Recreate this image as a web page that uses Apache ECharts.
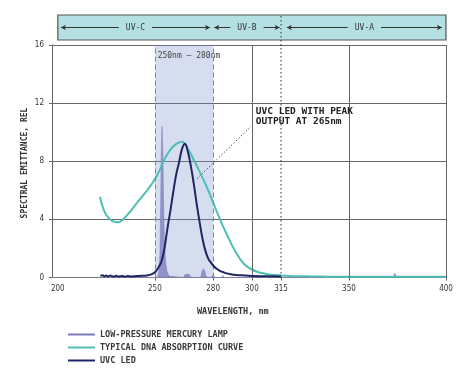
<!DOCTYPE html>
<html><head><meta charset="utf-8">
<script src="https://cdn.jsdelivr.net/npm/echarts@6/dist/echarts.min.js"></script>
<style>html,body{margin:0;padding:0;background:#fff}#c{width:470px;height:377px}</style>
</head><body><div id="c"></div>
<script>
// ---------- data ----------
const xTickValues = [200, 250, 280, 300, 315, 350, 400];
const xTickMarks = [250, 280, 300, 315, 350, 400];
const yTicks = [0, 4, 8, 12, 16];
const seriesNames = ['LOW-PRESSURE MERCURY LAMP', 'TYPICAL DNA ABSORPTION CURVE', 'UVC LED'];
const mercuryLamp = [
  [222,0],[251.4,0],[252.1,0.4],[252.6,1.6],[253.0,5],[253.35,9],[253.7,10.4],[254.05,9],[254.45,5.5],
  [254.9,2.6],[255.5,1.1],[256.2,0.45],[257.2,0.1],[258,0],[264.8,0],[265.6,0.22],[266.6,0.3],[267.6,0.22],
  [268.5,0.03],[270,0],[273.6,0],[274.3,0.42],[275,0.6],[275.7,0.45],[276.5,0.04],[279,0],[279.7,0.15],
  [280.4,0.18],[281.2,0],[284.4,0],[285,0.14],[285.7,0],[289,0],[289.7,0.1],[290.4,0],[373,0],
  [373.5,0.3],[374.3,0.3],[374.8,0],[400,0]
];
const dnaAbsorption = [
  [221.7,5.56],[223,4.9],[225,4.3],[228,3.9],[231,3.8],[234,4.05],[237,4.5],[240,5.0],[243,5.5],
  [246,6.0],[249,6.55],[252,7.25],[255,8.15],[258,8.8],[261,9.2],[264,9.35],[267,8.85],[270,8.1],
  [273,7.3],[276,6.45],[279,5.5],[282,4.5],[285,3.55],[288,2.7],[291,1.9],[294,1.25],[297,0.8],
  [300,0.55],[303,0.38],[306,0.29],[309,0.21],[312,0.17],[315,0.14],[320,0.11],[330,0.08],[340,0.06],
  [350,0.05],[375,0.05],[400,0.05]
];
const uvcLed = [
  [222,0.1],[223,0.15],[224,0.08],[225,0.14],[226,0.07],[227,0.13],[228,0.09],[229,0.06],[230,0.12],
  [231.5,0.07],[233,0.11],[234.5,0.06],[236,0.1],[238,0.07],[240,0.09],[242,0.1],[244,0.12],[246,0.14],
  [247.5,0.18],[249,0.26],[250.5,0.42],[252,0.72],[253.5,1.15],[255,2.05],[256.5,3.4],[258,4.6],
  [259.5,5.9],[261,7.1],[262.5,7.95],[264,8.85],[265.5,9.2],[267,8.65],[268.5,7.7],[270,6.5],[271.5,5.1],
  [273,3.85],[274.5,2.7],[276,1.85],[277.5,1.3],[279,1.0],[280.5,0.76],[282,0.58],[283.5,0.46],[285,0.38],
  [286.5,0.3],[289,0.23],[292,0.18],[296,0.14],[300,0.11],[308,0.08],[315,0.07]
];
const bandRange = [250, 280];
const bandLabel = '250nm – 280nm';
const uvRegions = [
  {name: 'UV-C', from: 201.6, to: 278.4},
  {name: 'UV-B', from: 280.6, to: 314.3},
  {name: 'UV-A', from: 318, to: 397.9}
];
const bandBoxRange = [200, 400];
const solidLines = [300, 350, 400];
const dottedLine = 315;
const annotationText = ['UVC LED WITH PEAK', 'OUTPUT AT 265nm'];
const annotationAnchor = [302, 11.75];
const leaderFrom = [271.7, 6.8];
const leaderTo = [299.6, 10.4];
const xAxisName = 'WAVELENGTH, nm';
const yAxisName = 'SPECTRAL EMITTANCE, REL';

// ---------- style ----------
const MONO = '"DejaVu Sans Mono", monospace';
const NARROW = '"Liberation Sans Narrow", "DejaVu Sans Condensed", sans-serif';
const GRID = '#666';
const C_LAMP = '#7d7aba', C_DNA = '#4dbfb6', C_LED = '#1f2562';

const chart = echarts.init(document.getElementById('c'), null, {renderer: 'canvas'});

const vLines = [
  {xAxis: bandRange[0], lineStyle: {type: [5, 3], color: '#888'}},
  {xAxis: bandRange[1], lineStyle: {type: [5, 3], color: '#888'}}
].concat(solidLines.map(v => ({xAxis: v, lineStyle: {type: 'solid', color: GRID}})));

chart.setOption({
  animation: false,
  grid: [
    {left: 52, right: 24, top: 45, bottom: 99.5},
    {left: 52, right: 24, top: 15, height: 25}
  ],
  xAxis: [
    {type: 'value', gridIndex: 0, min: 197, max: 400, splitLine: {show: false},
     axisLine: {lineStyle: {color: '#777', width: 1.2}},
     axisTick: {show: true, customValues: xTickMarks, length: 3, lineStyle: {color: GRID}},
     axisLabel: {customValues: xTickValues, color: '#333', fontSize: 8, fontFamily: NARROW, margin: 7}},
    {type: 'value', gridIndex: 1, min: 197, max: 400, show: false}
  ],
  yAxis: [
    {type: 'value', gridIndex: 0, min: 0, max: 16, interval: 4,
     axisLine: {show: true, lineStyle: {color: GRID}},
     axisTick: {show: true, length: 3, lineStyle: {color: GRID}},
     splitLine: {lineStyle: {color: GRID, width: 1}},
     axisLabel: {color: '#333', fontSize: 8, fontFamily: NARROW, margin: 8}},
    {type: 'value', gridIndex: 1, min: 0, max: 1, show: false}
  ],
  legend: {
    orient: 'vertical', left: 63, top: 324, itemWidth: 27, itemHeight: 2, itemGap: 2, icon: 'rect',
    data: seriesNames,
    textStyle: {fontFamily: MONO, fontSize: 8.5, fontWeight: 'bold', color: '#3a3a3a', lineHeight: 11}
  },
  series: [
    {type: 'scatter', xAxisIndex: 0, yAxisIndex: 0, data: [[300, 0]], symbolSize: 0, silent: true, z: 1,
     markArea: {silent: true, itemStyle: {color: 'rgba(118,142,198,0.3)'},
       label: {show: true, position: 'insideTop', distance: 7, offset: [5, 0], formatter: bandLabel,
               fontFamily: MONO, fontSize: 8, color: '#444'},
       data: [[{xAxis: bandRange[0]}, {xAxis: bandRange[1]}]]},
     markLine: {silent: true, symbol: ['none', 'none'], label: {show: false}, lineStyle: {width: 1},
       data: vLines}},
    {type: 'scatter', xAxisIndex: 1, yAxisIndex: 1, data: [[300, 0.5]], symbolSize: 0, silent: true, z: 1,
     markArea: {silent: true, itemStyle: {color: '#b4e0e4', borderColor: '#555', borderWidth: 1.2},
       data: [[{coord: [bandBoxRange[0], 0]}, {coord: [bandBoxRange[1], 1]}]]},
     markLine: {silent: true, symbol: ['arrow', 'arrow'], symbolSize: [4, 5],
       lineStyle: {type: 'solid', color: '#333', width: 1},
       label: {show: true, position: 'middle', distance: 0, verticalAlign: 'middle',
               backgroundColor: '#b4e0e4', padding: [1, 7],
               fontFamily: MONO, fontSize: 8, color: '#333'},
       data: uvRegions.map(r => [{coord: [r.from, 0.5], name: r.name}, {coord: [r.to, 0.5]}]),
       emphasis: {disabled: true}}},
    {name: seriesNames[0], type: 'line', data: mercuryLamp, showSymbol: false, z: 3,
     itemStyle: {color: C_LAMP}, lineStyle: {width: 0.6, color: '#8a87c3'},
     areaStyle: {color: '#8a87c3', opacity: 0.9}},
    {name: seriesNames[1], type: 'line', data: dnaAbsorption, showSymbol: false, smooth: 0.4, z: 4,
     itemStyle: {color: C_DNA}, lineStyle: {width: 2, color: C_DNA}},
    {name: seriesNames[2], type: 'line', data: uvcLed, showSymbol: false, smooth: 0.4, z: 5,
     itemStyle: {color: C_LED}, lineStyle: {width: 2, color: C_LED}}
  ]
});

// derived positions through the chart's own scales
const px = (x, y) => chart.convertToPixel({xAxisIndex: 0, yAxisIndex: 0}, [x, y]);
const x315 = chart.convertToPixel({xAxisIndex: 0}, dottedLine);
const y0 = chart.convertToPixel({yAxisIndex: 0}, 0);
const lf = px(leaderFrom[0], leaderFrom[1]), lt = px(leaderTo[0], leaderTo[1]);
const an = px(annotationAnchor[0], annotationAnchor[1]);

chart.setOption({
  graphic: [
    {type: 'line', z: 50, silent: true,
     shape: {x1: x315, y1: 16, x2: x315, y2: y0},
     style: {stroke: '#333', lineWidth: 1, lineDash: [1.5, 2.5]}},
    {type: 'line', z: 50, silent: true,
     shape: {x1: lf[0], y1: lf[1], x2: lt[0], y2: lt[1]},
     style: {stroke: '#333', lineWidth: 1, lineDash: [1.2, 2.2]}},
    {type: 'text', z: 50, silent: true, x: an[0], y: an[1],
     style: {text: annotationText.join('\n'), font: 'bold 9.5px ' + MONO, fill: '#222', lineHeight: 10,
             textAlign: 'left', textVerticalAlign: 'top'}},
    {type: 'text', z: 50, silent: true, x: 197, y: 307,
     style: {text: xAxisName, font: 'bold 8.5px ' + MONO, fill: '#333', textAlign: 'left', textVerticalAlign: 'top'}},
    {type: 'text', z: 50, silent: true, x: 25, y: 163, rotation: Math.PI / 2,
     style: {text: yAxisName, font: 'bold 8px ' + MONO, fill: '#333', textAlign: 'center', textVerticalAlign: 'middle'}}
  ]
});
</script>
</body></html>
